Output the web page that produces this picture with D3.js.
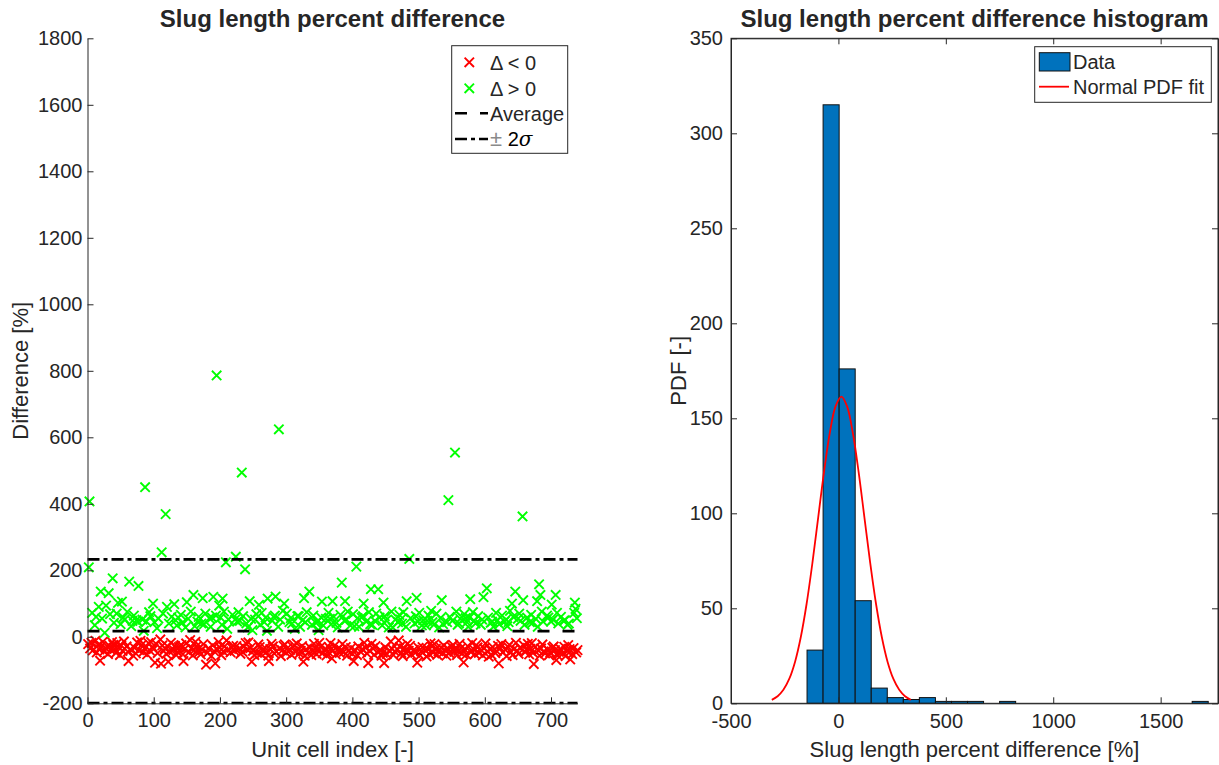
<!DOCTYPE html>
<html><head><meta charset="utf-8">
<script src="https://cdn.jsdelivr.net/npm/d3@7"></script>
<style>
body{margin:0;background:#fff;}
svg text{font-family:"Liberation Sans",Arial,Helvetica,sans-serif;fill:#262626;}
</style></head><body>
<svg id="chart" width="1219" height="765"></svg>
<script>
// ---------- DATA ----------
// Slug length percent difference per unit cell (index = position + 1; null = no value)
const differenceValues = [
-22,209,407,-35,null,-18,72,-41,null,null,35,-12,60,-47,null,-25,90,-38,-72,136,
-28,55,-15,null,-44,12,-33,94,null,null,-52,131,-27,68,-39,null,-16,176,-24,42,
-36,null,-48,70,-19,102,-31,null,-55,38,-26,106,-42,58,-14,52,null,null,-29,75,
-45,-73,166,null,-38,32,null,48,-57,64,-33,null,-50,50,-17,45,153,-40,null,-12,
null,-24,52,-46,18,-35,450,null,46,-53,null,-19,74,-41,62,-16,null,-30,100,-37,
44,-78,null,-22,26,-49,55,null,null,-8,-81,254,-26,70,-43,null,-35,369,-51,90,
-29,-75,40,-44,null,-18,60,null,null,-39,98,-27,50,-55,34,-46,58,-31,null,-28,
66,-25,42,-52,-73,null,-36,28,-20,104,null,54,-47,null,-10,76,-34,null,-56,126,
-40,32,-15,null,-28,46,-37,60,-45,null,-53,40,-38,116,-22,38,null,70,-84,null,
-48,null,-35,56,null,30,-58,58,-26,120,-43,null,-80,64,786,-37,null,-16,94,-32,
58,-55,36,115,-44,76,-29,null,224,-11,24,-39,52,null,null,-47,null,-33,66,-27,
null,-42,52,241,-28,46,null,74,-36,48,-51,null,494,-45,62,-30,null,203,-19,40,
-38,28,-17,null,107,-34,54,-75,20,-42,null,-55,52,null,68,-48,null,-23,96,-31,
36,-52,72,-40,null,null,44,-33,58,-46,18,115,-57,-73,null,-37,null,-21,48,-29,
60,-50,64,121,-44,null,null,30,624,-35,52,-58,null,-41,78,-27,100,-23,null,-48,
70,-34,null,null,44,-39,56,-54,40,-30,null,-25,24,-45,null,-20,62,-36,62,-50,
30,-42,null,-28,50,-75,116,-57,44,-38,74,null,null,-47,136,-32,null,-55,36,-43,
64,-21,null,-35,42,-52,46,-40,20,-18,null,-30,58,106,-49,34,null,null,-37,54,
-56,null,-44,72,-32,54,-19,38,-65,107,-41,60,-27,null,-53,42,null,28,-36,null,
-48,66,-39,163,-22,null,-45,48,107,-31,52,-57,76,-43,null,null,34,-34,null,-51,
68,-73,32,-40,null,211,-55,56,-29,30,null,null,-46,58,-37,62,100,-18,null,-33,
46,-50,null,-79,74,-42,38,143,-21,36,-35,null,-54,48,-28,70,null,null,143,-45,
58,-39,null,-57,34,-48,103,-79,62,-32,50,-52,null,null,28,-41,null,-14,76,-36,
28,-55,null,-44,52,null,null,-38,44,-11,66,-30,52,-49,40,-58,74,-35,null,-46,
30,107,-21,null,-42,234,-27,56,-53,null,null,null,-39,40,-48,62,117,-78,46,-33,
72,-56,null,-44,34,-31,50,null,null,-40,34,-59,48,-37,64,-52,null,-20,78,-29,
44,-47,36,-22,null,-36,70,-54,null,-43,28,null,56,-33,110,-50,38,-26,null,-41,
null,-57,44,-35,411,-48,60,null,null,-30,48,-24,null,-45,554,-38,76,-55,36,-42,
40,-21,54,-34,null,-50,null,-77,68,-39,56,-53,44,-28,30,null,58,113,-46,null,
-19,74,-37,48,-52,40,-25,null,-32,62,-48,null,null,36,-41,52,-56,119,-35,null,
-20,null,146,-44,58,-60,null,-38,42,-54,46,-31,30,null,null,-49,72,-43,50,-27,
-80,38,-34,null,-22,64,-47,null,null,46,-39,52,-58,32,-30,44,-24,78,-45,null,
100,-55,60,-37,null,136,-18,null,-42,54,-51,70,-33,48,null,null,362,110,-26,36,
-46,null,-39,58,-21,null,-53,44,-36,66,-19,42,-48,-82,null,-31,54,null,107,30,
-41,158,-57,126,-35,76,-23,46,-44,null,-50,null,null,64,-38,58,-55,null,-47,46,
97,-33,52,-29,null,-40,126,-70,72,-56,40,-45,null,-36,60,null,null,-49,48,-30,
50,-58,null,-42,36,-25,40,-37,-68,null,null,-52,null,-34,72,103,84,-47,56,-40
];
const averageValue = 17;
const plusTwoSigmaValue = 233;
const minusTwoSigmaValue = -199;
const scatterXTicks = [0,100,200,300,400,500,600,700];
const scatterYTicks = [-200,0,200,400,600,800,1000,1200,1400,1600,1800];
const scatterLegendLabels = ["\u0394 < 0","\u0394 > 0","Average","\u00b1 2\u03c3"];

// Histogram
const binLowerEdges = [-146,-71.3,3.4,78.1,152.8,227.5,302.2,376.9,451.6,526.3,601.0,750.4,1646.8];
const binWidth = 74.7;
const binCounts = [28,315,176,54,8,3,2,3,1,1,1,1,1];
const fitX = [-310,-283,-256,-229,-202,-175,-148,-121,-94,-67,-40,-13,14,40,67,94,121,148,175,202,229,256,283,310,337];
const fitY = [1.8,3.7,7.1,12.8,21.8,34.9,52.4,73.9,97.9,121.8,142.4,156.4,161.4,156.4,142.4,121.8,97.9,73.9,52.4,34.9,21.8,12.8,7.1,3.7,1.8];
const histXTicks = [-500,0,500,1000,1500];
const histYTicks = [0,50,100,150,200,250,300,350];
const histLegendLabels = ["Data","Normal PDF fit"];

// ---------- LAYOUT ----------
const svg = d3.select("#chart");
const AX = "#262626";
const FONT_TICK = 20, FONT_LABEL = 22, FONT_TITLE = 24, FONT_LEG = 20;
const L = {left:87.5, right:577.5, top:38.3, bottom:703.3};
const R = {left:731, right:1218, top:38.3, bottom:703.3};
const plainFmt = d => String(d);

const xS = d3.scaleLinear().domain([0,740]).range([L.left,L.right]);
const yS = d3.scaleLinear().domain([-200,1800]).range([L.bottom,L.top]);
const xH = d3.scaleLinear().domain([-500,1767]).range([R.left,R.right]);
const yH = d3.scaleLinear().domain([0,350]).range([R.bottom,R.top]);

function styleAxis(g){
  g.selectAll("path.domain").attr("stroke",AX).attr("stroke-width",1);
  g.selectAll(".tick line").attr("stroke",AX).attr("stroke-width",1);
  g.selectAll(".tick text").attr("font-size",FONT_TICK).attr("fill",AX)
    .style("font-family",'"Liberation Sans",Arial,sans-serif');
}

// ---------- LEFT: scatter ----------
const pts = differenceValues.map((v,i)=>({idx:i+1, v})).filter(d=>d.v!==null);
const crossPath = "M-4.7,-4.7L4.7,4.7M-4.7,4.7L4.7,-4.7";
const gS = svg.append("g");
gS.selectAll("path.neg").data(pts.filter(d=>d.v<0)).join("path")
  .attr("class","neg").attr("d",crossPath)
  .attr("transform",d=>`translate(${xS(d.idx)},${yS(d.v)})`)
  .attr("stroke","#ff0000").attr("stroke-width",1.9).attr("fill","none");
gS.selectAll("path.pos").data(pts.filter(d=>d.v>=0)).join("path")
  .attr("class","pos").attr("d",crossPath)
  .attr("transform",d=>`translate(${xS(d.idx)},${yS(d.v)})`)
  .attr("stroke","#00ff00").attr("stroke-width",1.9).attr("fill","none");

// reference lines
const refLines = [
  {v:averageValue, dash:"12,13"},
  {v:plusTwoSigmaValue, dash:"12,4,4,4"},
  {v:minusTwoSigmaValue, dash:"12,4,4,4"}
];
svg.append("g").selectAll("line").data(refLines).join("line")
  .attr("x1",xS(0)).attr("x2",xS(740))
  .attr("y1",d=>yS(d.v)).attr("y2",d=>yS(d.v))
  .attr("stroke","#000").attr("stroke-width",2.6).attr("stroke-dasharray",d=>d.dash);

// axes
const gxL = svg.append("g").attr("transform",`translate(0,${L.bottom})`)
  .call(d3.axisBottom(xS).tickValues(scatterXTicks).tickFormat(plainFmt).tickSizeInner(-6).tickSizeOuter(0).tickPadding(10));
styleAxis(gxL);
const gyL = svg.append("g").attr("transform",`translate(${L.left},0)`)
  .call(d3.axisLeft(yS).tickValues(scatterYTicks).tickFormat(plainFmt).tickSizeInner(-6).tickSizeOuter(0).tickPadding(5));
styleAxis(gyL);

// titles / labels
svg.append("text").attr("x",(L.left+L.right)/2).attr("y",26.5).attr("text-anchor","middle")
  .attr("font-size",FONT_TITLE).attr("font-weight","bold").attr("fill","#000")
  .text("Slug length percent difference");
svg.append("text").attr("x",(L.left+L.right)/2).attr("y",757).attr("text-anchor","middle")
  .attr("font-size",FONT_LABEL).text("Unit cell index [-]");
svg.append("text").attr("transform",`translate(28,${(L.top+L.bottom)/2}) rotate(-90)`)
  .attr("text-anchor","middle").attr("font-size",FONT_LABEL).text("Difference [%]");

// legend left
const lgL = svg.append("g");
lgL.append("rect").attr("x",451.7).attr("y",45.7).attr("width",116).attr("height",107.6)
  .attr("fill","#fff").attr("stroke",AX).attr("stroke-width",1);
const rowsY = [62.3,88.3,113.3,139];
lgL.append("path").attr("d",crossPath).attr("transform",`translate(469.3,${rowsY[0]})`)
  .attr("stroke","#ff0000").attr("stroke-width",1.9);
lgL.append("path").attr("d",crossPath).attr("transform",`translate(469.3,${rowsY[1]})`)
  .attr("stroke","#00ff00").attr("stroke-width",1.9);
lgL.append("line").attr("x1",455).attr("x2",488).attr("y1",rowsY[2]).attr("y2",rowsY[2])
  .attr("stroke","#000").attr("stroke-width",2.6).attr("stroke-dasharray",refLines[0].dash);
lgL.append("line").attr("x1",455).attr("x2",488).attr("y1",rowsY[3]).attr("y2",rowsY[3])
  .attr("stroke","#000").attr("stroke-width",2.6).attr("stroke-dasharray",refLines[1].dash);
[0,1,2].forEach(i=>{
  lgL.append("text").attr("x",490).attr("y",rowsY[i]).attr("dy","0.36em")
    .attr("font-size",FONT_LEG).attr("fill","#000").text(scatterLegendLabels[i]);
});
{
  const t = lgL.append("text").attr("x",490).attr("y",rowsY[3]).attr("dy","0.36em")
    .attr("font-size",FONT_LEG).attr("fill","#000");
  const lab = scatterLegendLabels[3];
  t.append("tspan").attr("fill","#8a8a8a").attr("font-size",22).text(lab.slice(0,1));
  t.append("tspan").attr("fill","#000").text(lab.slice(1,3));
  t.append("tspan").attr("fill","#000").attr("font-style","italic")
    .style("font-family",'"DejaVu Serif","Liberation Serif",serif').text(lab.slice(3));
}

// ---------- RIGHT: histogram ----------
const bins = binLowerEdges.map((e,i)=>({x0:e, x1:e+binWidth, n:binCounts[i]}));
svg.append("g").selectAll("rect").data(bins).join("rect")
  .attr("x",d=>xH(d.x0)).attr("width",d=>xH(d.x1)-xH(d.x0))
  .attr("y",d=>yH(d.n)).attr("height",d=>yH(0)-yH(d.n))
  .attr("fill","#0072bd").attr("stroke","#111").attr("stroke-width",1);

const fitPts = fitX.map((x,i)=>[x,fitY[i]]);
svg.append("path").datum(fitPts)
  .attr("d",d3.line().x(d=>xH(d[0])).y(d=>yH(d[1])).curve(d3.curveCatmullRom))
  .attr("fill","none").attr("stroke","#ff0000").attr("stroke-width",1.8);

// box + axes
svg.append("rect").attr("x",R.left).attr("y",R.top).attr("width",R.right-R.left).attr("height",R.bottom-R.top)
  .attr("fill","none").attr("stroke",AX).attr("stroke-width",1);
const gxR = svg.append("g").attr("transform",`translate(0,${R.bottom})`)
  .call(d3.axisBottom(xH).tickValues(histXTicks).tickFormat(plainFmt).tickSizeInner(-6).tickSizeOuter(0).tickPadding(11));
styleAxis(gxR);
const gxRt = svg.append("g").attr("transform",`translate(0,${R.top})`)
  .call(d3.axisTop(xH).tickValues(histXTicks).tickSizeInner(-6).tickSizeOuter(0).tickFormat(""));
styleAxis(gxRt);
const gyR = svg.append("g").attr("transform",`translate(${R.left},0)`)
  .call(d3.axisLeft(yH).tickValues(histYTicks).tickFormat(plainFmt).tickSizeInner(-6).tickSizeOuter(0).tickPadding(8));
styleAxis(gyR);
const gyRr = svg.append("g").attr("transform",`translate(${R.right},0)`)
  .call(d3.axisRight(yH).tickValues(histYTicks).tickSizeInner(-6).tickSizeOuter(0).tickFormat(""));
styleAxis(gyRr);

svg.append("text").attr("x",(R.left+R.right)/2).attr("y",26.5).attr("text-anchor","middle")
  .attr("font-size",FONT_TITLE).attr("font-weight","bold").attr("fill","#000")
  .text("Slug length percent difference histogram");
svg.append("text").attr("x",(R.left+R.right)/2).attr("y",757).attr("text-anchor","middle")
  .attr("font-size",FONT_LABEL).text("Slug length percent difference [%]");
svg.append("text").attr("transform",`translate(686,${(R.top+R.bottom)/2}) rotate(-90)`)
  .attr("text-anchor","middle").attr("font-size",FONT_LABEL).text("PDF [-]");

// legend right
const lgR = svg.append("g");
lgR.append("rect").attr("x",1034.7).attr("y",46.7).attr("width",176.6).attr("height",55.6)
  .attr("fill","#fff").attr("stroke",AX).attr("stroke-width",1);
lgR.append("rect").attr("x",1039.3).attr("y",52.7).attr("width",30.7).attr("height",18.3)
  .attr("fill","#0072bd").attr("stroke","#111").attr("stroke-width",1);
lgR.append("text").attr("x",1073).attr("y",62).attr("dy","0.36em").attr("font-size",FONT_LEG)
  .attr("fill","#000").text(histLegendLabels[0]);
lgR.append("line").attr("x1",1039).attr("x2",1069).attr("y1",86.7).attr("y2",86.7)
  .attr("stroke","#ff0000").attr("stroke-width",1.8);
lgR.append("text").attr("x",1073).attr("y",87).attr("dy","0.36em").attr("font-size",FONT_LEG)
  .attr("fill","#000").text(histLegendLabels[1]);
</script>
</body></html>
